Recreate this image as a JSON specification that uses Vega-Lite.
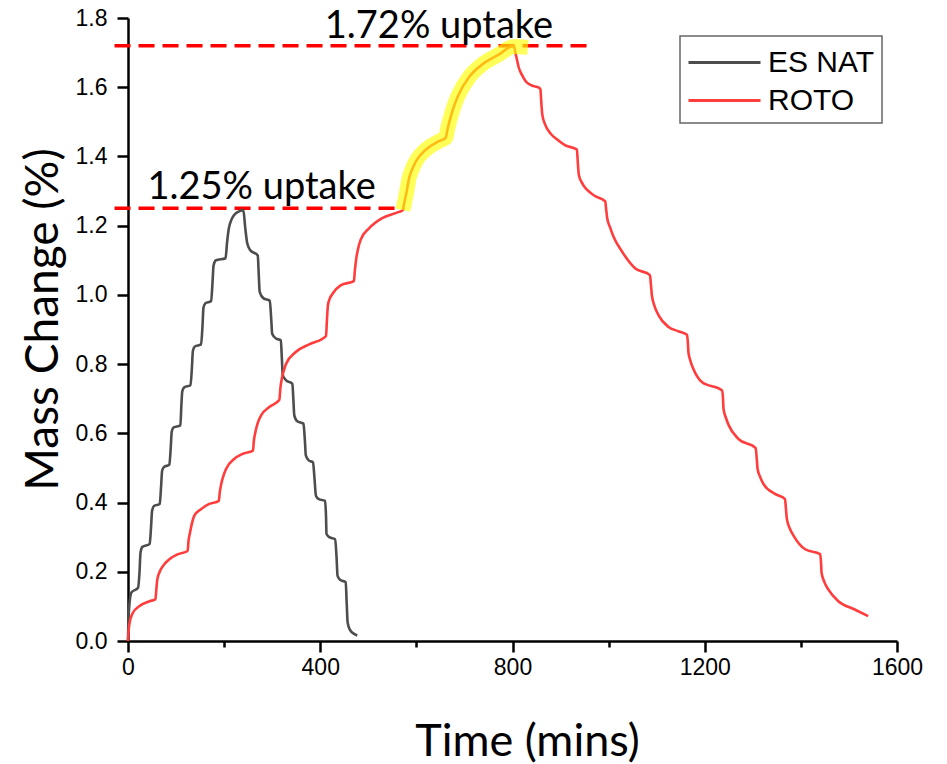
{
  "$schema": "https://vega.github.io/schema/vega-lite/v6.json",
  "width": 769,
  "height": 623,
  "autosize": "none",
  "padding": {"left": 128, "top": 18, "right": 50, "bottom": 123},
  "background": "white",
  "config": {
    "view": {"stroke": null},
    "axis": {
      "domainColor": "black",
      "domainWidth": 2.5,
      "tickColor": "black",
      "tickWidth": 2.5,
      "grid": false,
      "labelFont": "Liberation Sans",
      "labelFontSize": 23,
      "labelColor": "black",
      "titleFont": "Lato",
      "titleFontSize": 45,
      "titleFontWeight": "normal",
      "titleColor": "black"
    },
    "legend": {
      "orient": "none",
      "legendX": 552,
      "legendY": 18,
      "title": null,
      "strokeColor": "#666666",
      "strokeWidth": 1.5,
      "fillColor": "white",
      "padding": 7,
      "labelFont": "Liberation Sans",
      "labelFontSize": 30,
      "labelColor": "black",
      "labelOffset": 42,
      "symbolType": "M-1,0H3",
      "symbolSize": 1296,
      "symbolStrokeWidth": 3,
      "rowPadding": 3
    }
  },
  "datasets": {
    "curves": [
      {"series": "ES NAT", "t": 0, "v": 0},
      {"series": "ES NAT", "t": 2, "v": 0.09},
      {"series": "ES NAT", "t": 7, "v": 0.14},
      {"series": "ES NAT", "t": 21, "v": 0.154},
      {"series": "ES NAT", "t": 24, "v": 0.2},
      {"series": "ES NAT", "t": 26, "v": 0.255},
      {"series": "ES NAT", "t": 30, "v": 0.272},
      {"series": "ES NAT", "t": 45, "v": 0.28},
      {"series": "ES NAT", "t": 48, "v": 0.33},
      {"series": "ES NAT", "t": 50, "v": 0.375},
      {"series": "ES NAT", "t": 54, "v": 0.39},
      {"series": "ES NAT", "t": 66, "v": 0.396},
      {"series": "ES NAT", "t": 69, "v": 0.45},
      {"series": "ES NAT", "t": 71, "v": 0.492},
      {"series": "ES NAT", "t": 75, "v": 0.503},
      {"series": "ES NAT", "t": 86, "v": 0.509},
      {"series": "ES NAT", "t": 89, "v": 0.56},
      {"series": "ES NAT", "t": 91, "v": 0.605},
      {"series": "ES NAT", "t": 95, "v": 0.617},
      {"series": "ES NAT", "t": 109, "v": 0.623},
      {"series": "ES NAT", "t": 111, "v": 0.68},
      {"series": "ES NAT", "t": 113, "v": 0.722},
      {"series": "ES NAT", "t": 117, "v": 0.733},
      {"series": "ES NAT", "t": 130, "v": 0.739},
      {"series": "ES NAT", "t": 133, "v": 0.79},
      {"series": "ES NAT", "t": 135, "v": 0.838},
      {"series": "ES NAT", "t": 139, "v": 0.851},
      {"series": "ES NAT", "t": 152, "v": 0.857},
      {"series": "ES NAT", "t": 155, "v": 0.91},
      {"series": "ES NAT", "t": 157, "v": 0.963},
      {"series": "ES NAT", "t": 161, "v": 0.976},
      {"series": "ES NAT", "t": 173, "v": 0.982},
      {"series": "ES NAT", "t": 176, "v": 1.04},
      {"series": "ES NAT", "t": 178, "v": 1.085},
      {"series": "ES NAT", "t": 183, "v": 1.1},
      {"series": "ES NAT", "t": 203, "v": 1.106},
      {"series": "ES NAT", "t": 206, "v": 1.15},
      {"series": "ES NAT", "t": 210, "v": 1.193},
      {"series": "ES NAT", "t": 221, "v": 1.231},
      {"series": "ES NAT", "t": 232, "v": 1.242},
      {"series": "ES NAT", "t": 240, "v": 1.245},
      {"series": "ES NAT", "t": 244, "v": 1.193},
      {"series": "ES NAT", "t": 248, "v": 1.15},
      {"series": "ES NAT", "t": 254, "v": 1.13},
      {"series": "ES NAT", "t": 270, "v": 1.114},
      {"series": "ES NAT", "t": 272, "v": 1.06},
      {"series": "ES NAT", "t": 274, "v": 1.009},
      {"series": "ES NAT", "t": 282, "v": 0.99},
      {"series": "ES NAT", "t": 295, "v": 0.983},
      {"series": "ES NAT", "t": 298, "v": 0.93},
      {"series": "ES NAT", "t": 300, "v": 0.888},
      {"series": "ES NAT", "t": 308, "v": 0.874},
      {"series": "ES NAT", "t": 318, "v": 0.869},
      {"series": "ES NAT", "t": 320, "v": 0.82},
      {"series": "ES NAT", "t": 322, "v": 0.768},
      {"series": "ES NAT", "t": 329, "v": 0.753},
      {"series": "ES NAT", "t": 342, "v": 0.743},
      {"series": "ES NAT", "t": 344, "v": 0.7},
      {"series": "ES NAT", "t": 346, "v": 0.652},
      {"series": "ES NAT", "t": 352, "v": 0.635},
      {"series": "ES NAT", "t": 365, "v": 0.628},
      {"series": "ES NAT", "t": 368, "v": 0.58},
      {"series": "ES NAT", "t": 370, "v": 0.536},
      {"series": "ES NAT", "t": 376, "v": 0.522},
      {"series": "ES NAT", "t": 385, "v": 0.516},
      {"series": "ES NAT", "t": 388, "v": 0.47},
      {"series": "ES NAT", "t": 391, "v": 0.42},
      {"series": "ES NAT", "t": 397, "v": 0.41},
      {"series": "ES NAT", "t": 410, "v": 0.405},
      {"series": "ES NAT", "t": 412, "v": 0.36},
      {"series": "ES NAT", "t": 413, "v": 0.309},
      {"series": "ES NAT", "t": 419, "v": 0.3},
      {"series": "ES NAT", "t": 431, "v": 0.294},
      {"series": "ES NAT", "t": 434, "v": 0.24},
      {"series": "ES NAT", "t": 436, "v": 0.188},
      {"series": "ES NAT", "t": 442, "v": 0.176},
      {"series": "ES NAT", "t": 453, "v": 0.17},
      {"series": "ES NAT", "t": 455, "v": 0.11},
      {"series": "ES NAT", "t": 457, "v": 0.053},
      {"series": "ES NAT", "t": 462, "v": 0.032},
      {"series": "ES NAT", "t": 467, "v": 0.024},
      {"series": "ES NAT", "t": 477, "v": 0.016},
      {"series": "ROTO", "t": 0, "v": 0},
      {"series": "ROTO", "t": 1, "v": 0.025},
      {"series": "ROTO", "t": 3, "v": 0.05},
      {"series": "ROTO", "t": 10, "v": 0.081},
      {"series": "ROTO", "t": 24, "v": 0.101},
      {"series": "ROTO", "t": 45, "v": 0.115},
      {"series": "ROTO", "t": 57, "v": 0.12},
      {"series": "ROTO", "t": 59, "v": 0.15},
      {"series": "ROTO", "t": 61, "v": 0.178},
      {"series": "ROTO", "t": 66, "v": 0.2},
      {"series": "ROTO", "t": 73, "v": 0.217},
      {"series": "ROTO", "t": 86, "v": 0.236},
      {"series": "ROTO", "t": 104, "v": 0.251},
      {"series": "ROTO", "t": 124, "v": 0.26},
      {"series": "ROTO", "t": 126, "v": 0.29},
      {"series": "ROTO", "t": 129, "v": 0.313},
      {"series": "ROTO", "t": 133, "v": 0.34},
      {"series": "ROTO", "t": 138, "v": 0.362},
      {"series": "ROTO", "t": 152, "v": 0.381},
      {"series": "ROTO", "t": 169, "v": 0.396},
      {"series": "ROTO", "t": 189, "v": 0.405},
      {"series": "ROTO", "t": 191, "v": 0.43},
      {"series": "ROTO", "t": 194, "v": 0.454},
      {"series": "ROTO", "t": 198, "v": 0.475},
      {"series": "ROTO", "t": 204, "v": 0.497},
      {"series": "ROTO", "t": 221, "v": 0.526},
      {"series": "ROTO", "t": 239, "v": 0.541},
      {"series": "ROTO", "t": 260, "v": 0.55},
      {"series": "ROTO", "t": 262, "v": 0.58},
      {"series": "ROTO", "t": 265, "v": 0.603},
      {"series": "ROTO", "t": 270, "v": 0.63},
      {"series": "ROTO", "t": 277, "v": 0.652},
      {"series": "ROTO", "t": 294, "v": 0.676},
      {"series": "ROTO", "t": 315, "v": 0.697},
      {"series": "ROTO", "t": 317, "v": 0.73},
      {"series": "ROTO", "t": 320, "v": 0.758},
      {"series": "ROTO", "t": 324, "v": 0.78},
      {"series": "ROTO", "t": 329, "v": 0.801},
      {"series": "ROTO", "t": 349, "v": 0.835},
      {"series": "ROTO", "t": 377, "v": 0.857},
      {"series": "ROTO", "t": 412, "v": 0.881},
      {"series": "ROTO", "t": 414, "v": 0.93},
      {"series": "ROTO", "t": 416, "v": 0.97},
      {"series": "ROTO", "t": 420, "v": 0.99},
      {"series": "ROTO", "t": 426, "v": 1.004},
      {"series": "ROTO", "t": 443, "v": 1.028},
      {"series": "ROTO", "t": 470, "v": 1.04},
      {"series": "ROTO", "t": 472, "v": 1.07},
      {"series": "ROTO", "t": 475, "v": 1.106},
      {"series": "ROTO", "t": 479, "v": 1.135},
      {"series": "ROTO", "t": 484, "v": 1.159},
      {"series": "ROTO", "t": 502, "v": 1.193},
      {"series": "ROTO", "t": 529, "v": 1.222},
      {"series": "ROTO", "t": 564, "v": 1.24},
      {"series": "ROTO", "t": 572, "v": 1.245},
      {"series": "ROTO", "t": 574, "v": 1.26},
      {"series": "ROTO", "t": 580, "v": 1.3},
      {"series": "ROTO", "t": 585, "v": 1.338},
      {"series": "ROTO", "t": 592, "v": 1.365},
      {"series": "ROTO", "t": 599, "v": 1.386},
      {"series": "ROTO", "t": 620, "v": 1.42},
      {"series": "ROTO", "t": 647, "v": 1.444},
      {"series": "ROTO", "t": 661, "v": 1.454},
      {"series": "ROTO", "t": 665, "v": 1.48},
      {"series": "ROTO", "t": 671, "v": 1.512},
      {"series": "ROTO", "t": 679, "v": 1.548},
      {"series": "ROTO", "t": 688, "v": 1.579},
      {"series": "ROTO", "t": 709, "v": 1.628},
      {"series": "ROTO", "t": 737, "v": 1.666},
      {"series": "ROTO", "t": 772, "v": 1.695},
      {"series": "ROTO", "t": 803, "v": 1.72},
      {"series": "ROTO", "t": 806, "v": 1.7},
      {"series": "ROTO", "t": 810, "v": 1.675},
      {"series": "ROTO", "t": 813, "v": 1.657},
      {"series": "ROTO", "t": 820, "v": 1.635},
      {"series": "ROTO", "t": 827, "v": 1.618},
      {"series": "ROTO", "t": 840, "v": 1.605},
      {"series": "ROTO", "t": 855, "v": 1.599},
      {"series": "ROTO", "t": 858, "v": 1.594},
      {"series": "ROTO", "t": 860, "v": 1.555},
      {"series": "ROTO", "t": 862, "v": 1.521},
      {"series": "ROTO", "t": 868, "v": 1.492},
      {"series": "ROTO", "t": 880, "v": 1.465},
      {"series": "ROTO", "t": 893, "v": 1.449},
      {"series": "ROTO", "t": 910, "v": 1.432},
      {"series": "ROTO", "t": 934, "v": 1.42},
      {"series": "ROTO", "t": 936, "v": 1.38},
      {"series": "ROTO", "t": 938, "v": 1.347},
      {"series": "ROTO", "t": 944, "v": 1.325},
      {"series": "ROTO", "t": 955, "v": 1.304},
      {"series": "ROTO", "t": 970, "v": 1.287},
      {"series": "ROTO", "t": 993, "v": 1.27},
      {"series": "ROTO", "t": 995, "v": 1.245},
      {"series": "ROTO", "t": 997, "v": 1.222},
      {"series": "ROTO", "t": 1003, "v": 1.195},
      {"series": "ROTO", "t": 1010, "v": 1.169},
      {"series": "ROTO", "t": 1028, "v": 1.125},
      {"series": "ROTO", "t": 1055, "v": 1.077},
      {"series": "ROTO", "t": 1086, "v": 1.057},
      {"series": "ROTO", "t": 1088, "v": 1.03},
      {"series": "ROTO", "t": 1090, "v": 0.999},
      {"series": "ROTO", "t": 1095, "v": 0.97},
      {"series": "ROTO", "t": 1104, "v": 0.941},
      {"series": "ROTO", "t": 1124, "v": 0.908},
      {"series": "ROTO", "t": 1145, "v": 0.895},
      {"series": "ROTO", "t": 1163, "v": 0.885},
      {"series": "ROTO", "t": 1165, "v": 0.86},
      {"series": "ROTO", "t": 1166, "v": 0.835},
      {"series": "ROTO", "t": 1170, "v": 0.81},
      {"series": "ROTO", "t": 1176, "v": 0.787},
      {"series": "ROTO", "t": 1194, "v": 0.748},
      {"series": "ROTO", "t": 1236, "v": 0.724},
      {"series": "ROTO", "t": 1238, "v": 0.7},
      {"series": "ROTO", "t": 1239, "v": 0.671},
      {"series": "ROTO", "t": 1244, "v": 0.645},
      {"series": "ROTO", "t": 1250, "v": 0.623},
      {"series": "ROTO", "t": 1270, "v": 0.584},
      {"series": "ROTO", "t": 1306, "v": 0.557},
      {"series": "ROTO", "t": 1308, "v": 0.53},
      {"series": "ROTO", "t": 1310, "v": 0.497},
      {"series": "ROTO", "t": 1315, "v": 0.475},
      {"series": "ROTO", "t": 1322, "v": 0.454},
      {"series": "ROTO", "t": 1346, "v": 0.425},
      {"series": "ROTO", "t": 1367, "v": 0.41},
      {"series": "ROTO", "t": 1369, "v": 0.38},
      {"series": "ROTO", "t": 1371, "v": 0.352},
      {"series": "ROTO", "t": 1377, "v": 0.325},
      {"series": "ROTO", "t": 1385, "v": 0.304},
      {"series": "ROTO", "t": 1409, "v": 0.265},
      {"series": "ROTO", "t": 1440, "v": 0.251},
      {"series": "ROTO", "t": 1442, "v": 0.225},
      {"series": "ROTO", "t": 1443, "v": 0.198},
      {"series": "ROTO", "t": 1449, "v": 0.17},
      {"series": "ROTO", "t": 1457, "v": 0.149},
      {"series": "ROTO", "t": 1478, "v": 0.115},
      {"series": "ROTO", "t": 1512, "v": 0.091},
      {"series": "ROTO", "t": 1540, "v": 0.072}
    ],
    "highlight": [
      {"t": 572, "v": 1.245},
      {"t": 580, "v": 1.3},
      {"t": 585, "v": 1.338},
      {"t": 592, "v": 1.365},
      {"t": 599, "v": 1.386},
      {"t": 620, "v": 1.42},
      {"t": 647, "v": 1.444},
      {"t": 661, "v": 1.454},
      {"t": 665, "v": 1.48},
      {"t": 671, "v": 1.512},
      {"t": 679, "v": 1.548},
      {"t": 688, "v": 1.579},
      {"t": 709, "v": 1.628},
      {"t": 737, "v": 1.666},
      {"t": 772, "v": 1.695},
      {"t": 803, "v": 1.718},
      {"t": 832, "v": 1.715}
    ],
    "levels": [
      {"t0": -28, "t1": 967, "v": 1.72},
      {"t0": -28, "t1": 575, "v": 1.25}
    ],
    "notes": [
      {"t": 647, "v": 1.775, "label": "1.72% uptake"},
      {"t": 278, "v": 1.31, "label": "1.25% uptake"}
    ]
  },
  "layer": [
    {
      "data": {"name": "levels"},
      "mark": {"type": "rule", "color": "#ff0000", "strokeWidth": 3.5, "strokeDash": [16, 8]},
      "encoding": {
        "x": {"field": "t0", "type": "quantitative", "scale": {"domain": [0, 1600], "nice": false, "zero": false}},
        "x2": {"field": "t1"},
        "y": {"field": "v", "type": "quantitative", "scale": {"domain": [0, 1.8], "nice": false}}
      }
    },
    {
      "data": {"name": "curves"},
      "mark": {"type": "line", "strokeWidth": 2.6, "interpolate": "monotone"},
      "encoding": {
        "x": {
          "field": "t",
          "type": "quantitative",
          "scale": {"domain": [0, 1600], "nice": false, "zero": false},
          "axis": {
            "title": "Time (mins)",
            "values": [0, 200, 400, 600, 800, 1000, 1200, 1400, 1600],
            "labelExpr": "datum.value % 400 === 0 ? datum.label : ''",
            "format": "d",
            "tickSize": {"condition": {"test": "datum.value % 400 !== 0", "value": 6}, "value": 11},
            "labelPadding": 4,
            "labelFlush": false,
            "titlePadding": 40,
            "titleX": 399
          }
        },
        "y": {
          "field": "v",
          "type": "quantitative",
          "scale": {"domain": [0, 1.8], "nice": false},
          "axis": {
            "title": "Mass Change (%)",
            "titleFontSize": 46,
            "titleY": 301,
            "values": [0, 0.1, 0.2, 0.3, 0.4, 0.5, 0.6, 0.7, 0.8, 0.9, 1.0, 1.1, 1.2, 1.3, 1.4, 1.5, 1.6, 1.7, 1.8],
            "format": ".1f",
            "labelExpr": "round(datum.value * 10) % 2 === 0 ? datum.label : ''",
            "tickSize": {"condition": {"test": "round(datum.value * 10) % 2 === 1", "value": 6}, "value": 11},
            "labelPadding": 10,
            "labelFlush": false,
            "titlePadding": 8
          }
        },
        "color": {
          "field": "series",
          "type": "nominal",
          "scale": {"domain": ["ES NAT", "ROTO"], "range": ["#4d4d4d", "#ff3d3d"]},
          "legend": {}
        }
      }
    },
    {
      "data": {"name": "highlight"},
      "mark": {"type": "line", "color": "#ffff00", "opacity": 0.65, "strokeWidth": 15, "interpolate": "monotone", "strokeCap": "butt"},
      "encoding": {
        "x": {"field": "t", "type": "quantitative"},
        "y": {"field": "v", "type": "quantitative"}
      }
    },
    {
      "data": {"name": "notes"},
      "mark": {"type": "text", "font": "Lato", "fontSize": 38, "color": "black", "align": "center", "baseline": "middle"},
      "encoding": {
        "x": {"field": "t", "type": "quantitative"},
        "y": {"field": "v", "type": "quantitative"},
        "text": {"field": "label"}
      }
    }
  ]
}
